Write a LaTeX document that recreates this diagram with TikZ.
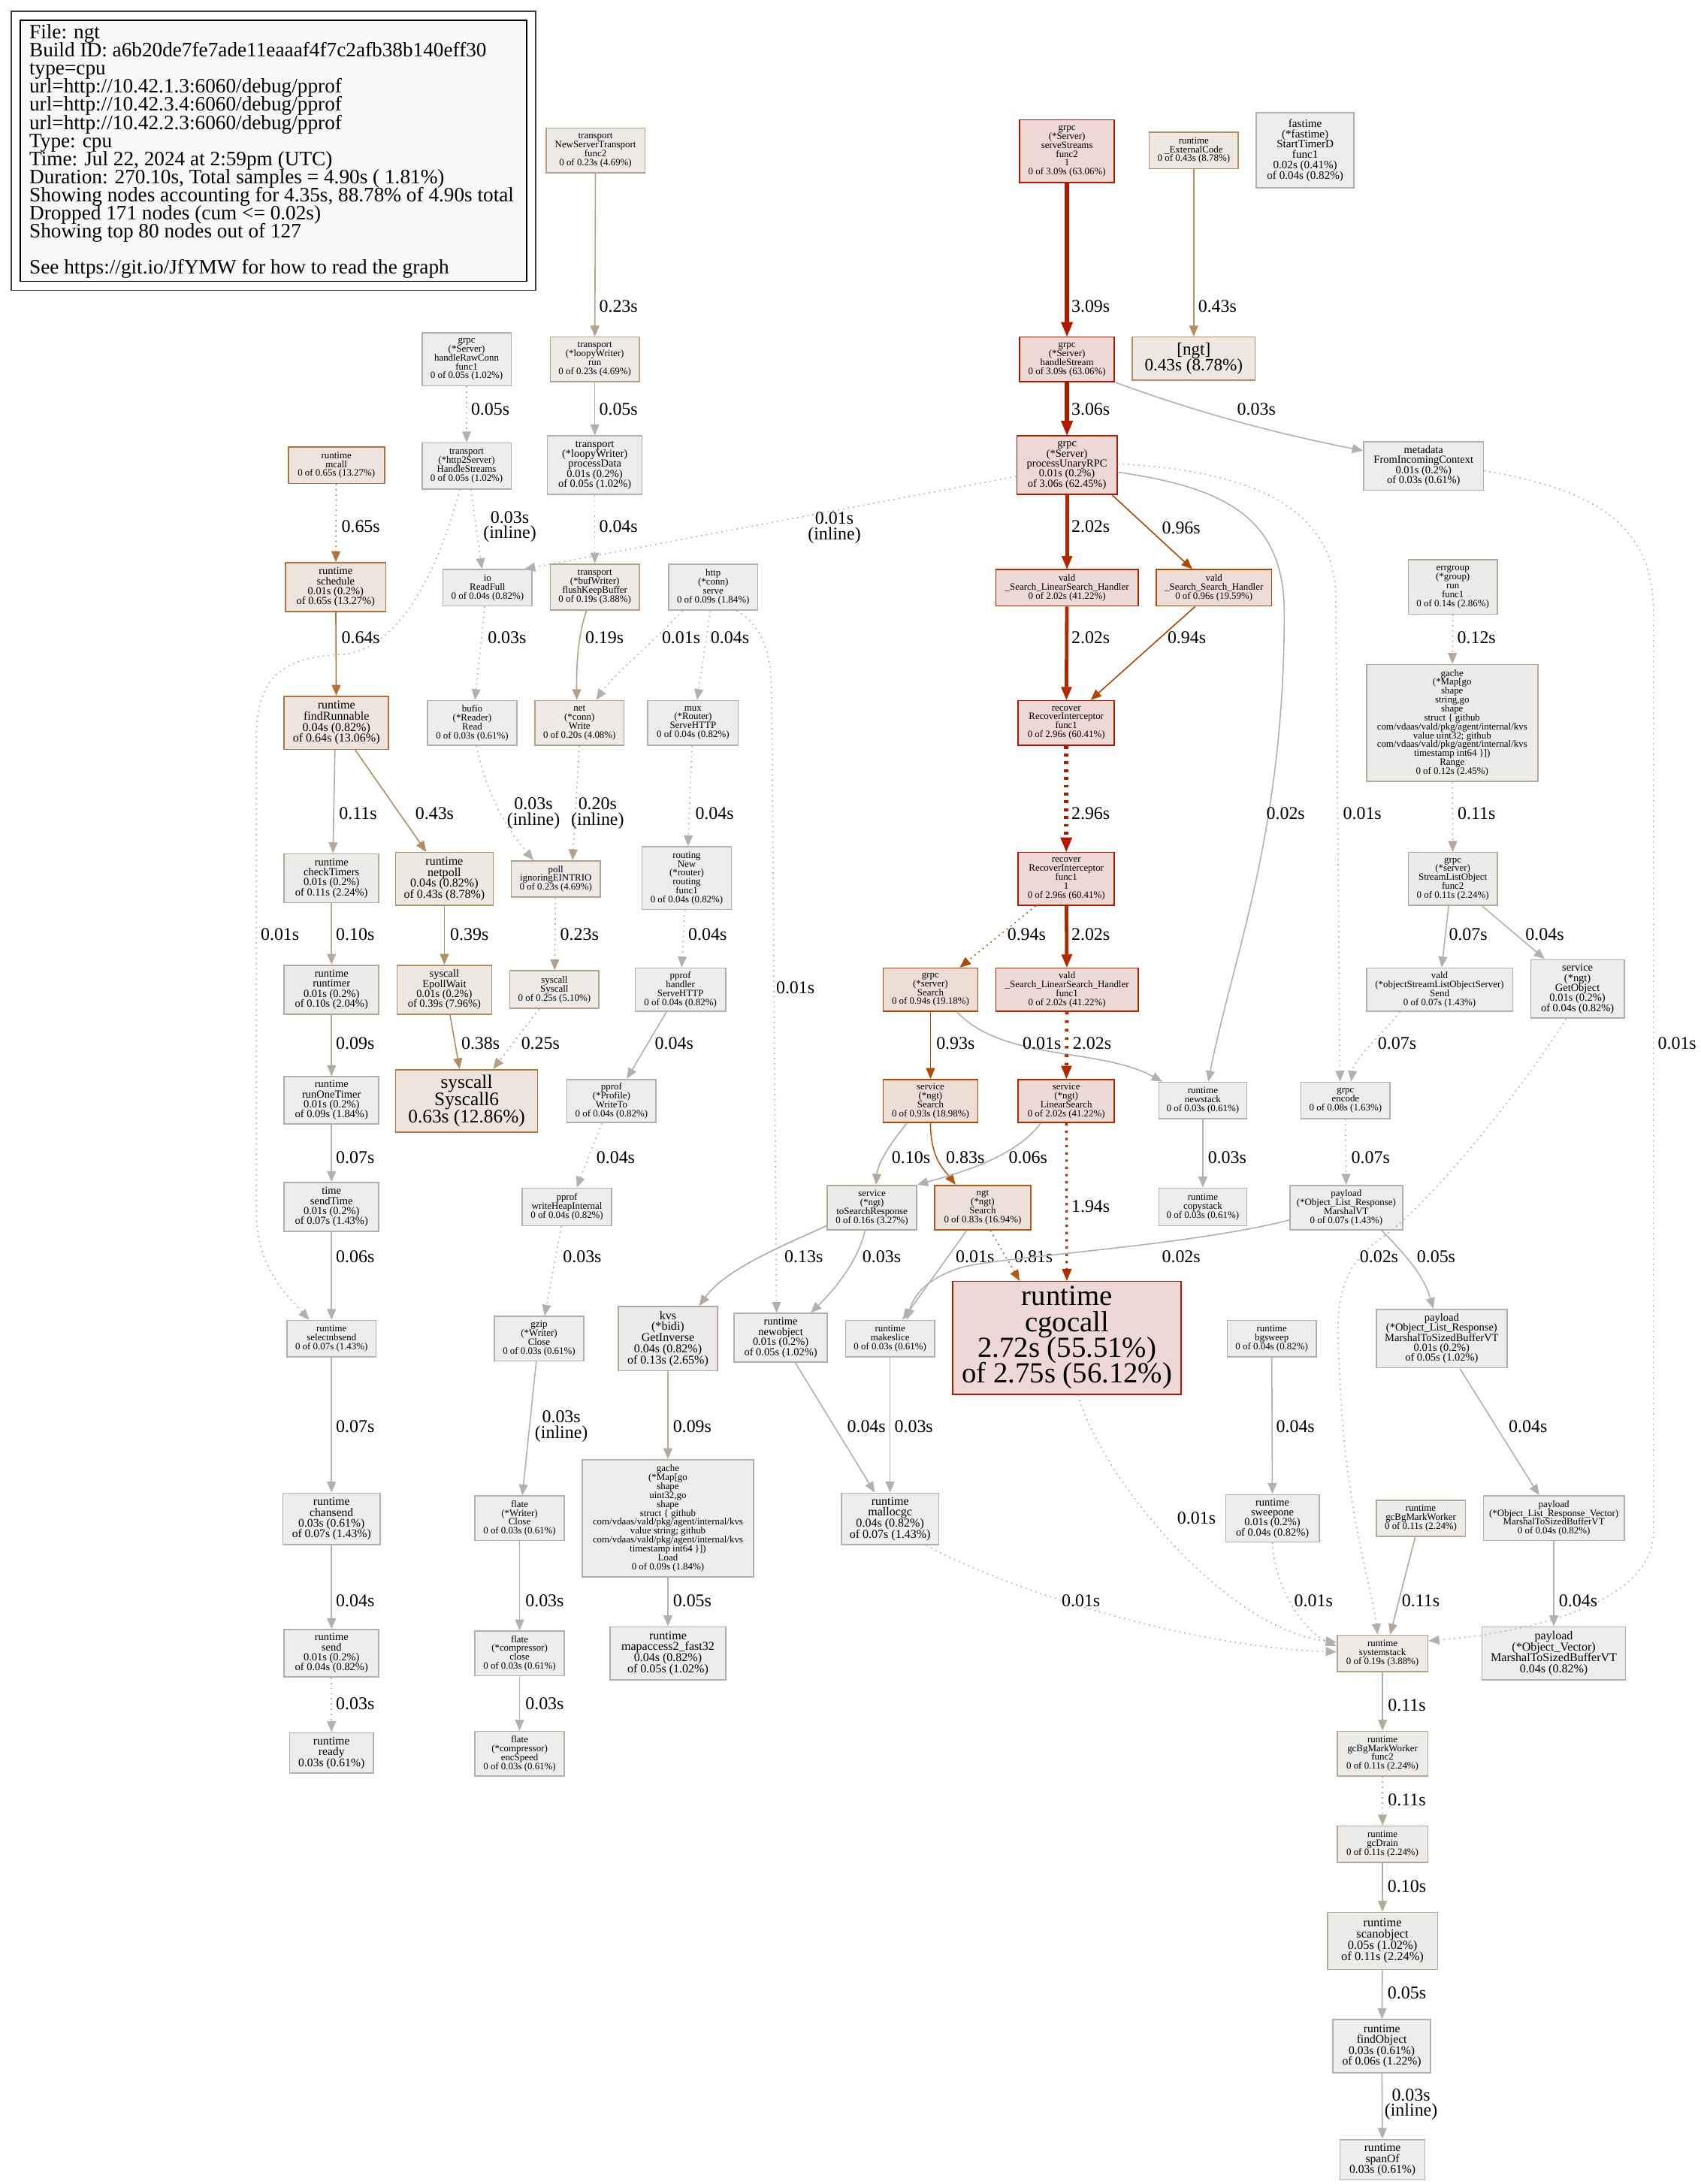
\documentclass[tikz,border=0pt]{standalone}
\usepackage{fontspec}
\setmainfont{Liberation Serif}
\usetikzlibrary{arrows.meta}

\definecolor{hotfill}{HTML}{EDD8D5}
\definecolor{hotline}{HTML}{B21800}
\definecolor{redfill}{HTML}{EDDAD5}
\definecolor{redline}{HTML}{B22900}
\definecolor{red2line}{HTML}{B22B00}
\definecolor{orfill}{HTML}{EDDED5}
\definecolor{orline}{HTML}{B24806}
\definecolor{ngfill}{HTML}{EDE1D9}
\definecolor{ngline}{HTML}{B2591B}
\definecolor{warmfill}{HTML}{EDE4DD}
\definecolor{warmline}{HTML}{B2723D}
\definecolor{tanfill}{HTML}{EDE8E2}
\definecolor{tanline}{HTML}{B28D66}
\definecolor{ltfill}{HTML}{EDEAE7}
\definecolor{ltline}{HTML}{B2A28A}
\definecolor{palefill}{HTML}{EDEBE9}
\definecolor{paleline}{HTML}{B2AA9C}
\definecolor{grayfill}{HTML}{EDEDEB}
\definecolor{grayline}{HTML}{B2B0AB}
\definecolor{callline}{HTML}{B2B1AD}
\definecolor{legendfill}{HTML}{F8F8F8}

% font size with fixed line pitch
\newcommand\setfs[2]{\fontsize{#1}{#2}\selectfont\lineskiplimit=-50pt\lineskip=0pt\relax}

\tikzset{
  fn/.style={draw, rectangle, align=center, inner xsep=1.5pt, inner ysep=0.5pt, line width=0.87pt,
    font=\setfs{6.96}{6.4}},
  sz/.style 2 args={minimum width=#1pt, minimum height=#2pt},
  fz1/.style={font=\setfs{7.8}{7.2}},
  fz2/.style={font=\setfs{8.15}{7.5}},
  fz3/.style={font=\setfs{8.42}{7.75}},
  fz4/.style={font=\setfs{8.65}{7.95}},
  fz5/.style={font=\setfs{8.85}{8.15}},
  fzngt/.style={font=\setfs{12.5}{11.5}},
  fzbig/.style={font=\setfs{13.66}{12.5}},
  fzhuge/.style={font=\setfs{20.9}{18.5}},
  hotbox/.style={fn, draw=hotline, fill=hotfill},
  redbox/.style={fn, draw=redline, fill=redfill},
  orbox/.style={fn, draw=orline, fill=orfill},
  ngbox/.style={fn, draw=ngline, fill=ngfill},
  warmbox/.style={fn, draw=warmline, fill=warmfill},
  tanbox/.style={fn, draw=tanline, fill=tanfill},
  ltbox/.style={fn, draw=ltline, fill=ltfill},
  palebox/.style={fn, draw=paleline, fill=palefill},
  graybox/.style={fn, draw=grayline, fill=grayfill},
  lbl/.style={font=\setfs{12.9}{11}, align=center, inner sep=0pt},
  call/.style={draw=callline, line width=0.87pt, -{Triangle[length=7.8pt,width=6.4pt]}},
  palecall/.style={call, draw=paleline},
  ltcall/.style={call, draw=ltline},
  tancall/.style={call, draw=tanline},
  warmcall/.style={call, draw=warmline},
  ngcall/.style={call, draw=ngline},
  orcall/.style={call, draw=orline},
  red2call/.style={draw=red2line, line width=1.74pt, -{Triangle[length=8.6pt,width=7pt,line width=0.5pt]}},
  redcall/.style={draw=redline, line width=2.6pt, -{Triangle[length=9.4pt,width=7.8pt,line width=0.5pt]}},
  hotcall/.style={draw=hotline, line width=3.5pt, -{Triangle[length=10.4pt,width=8.6pt,line width=0.5pt]}},
  indirect/.style={dash pattern=on 0.9pt off 2.8pt},
  dots2/.style={dash pattern=on 1.7pt off 3.5pt},
  dots3/.style={dash pattern=on 1.9pt off 4.2pt},
  dots4/.style={dash pattern=on 2.1pt off 3.5pt},
}

\begin{document}
\begin{tikzpicture}[x=1pt, y=-1pt]
    \useasboundingbox (0,0) rectangle (1221,1568);

    % legend
    \node[draw=black, fill=legendfill, line width=0.9pt, sz={363.4}{187.4}] (legend) at (196.3,108.3) {};
    \draw[draw=black!75, line width=1pt] ([shift={(-6,-6)}]legend.north west) rectangle ([shift={(6,6)}]legend.south east);
    \node[anchor=north west, align=left, inner sep=0pt, font=\setfs{14.7}{13}] (legendtext) at (20.9,17.4)
      {File: ngt\\Build ID: a6b20de7fe7ade11eaaaf4f7c2afb38b140eff30\\type=cpu\\
       url=http://10.42.1.3:6060/debug/pprof\\url=http://10.42.3.4:6060/debug/pprof\\url=http://10.42.2.3:6060/debug/pprof\\
       Type: cpu\\Time: Jul 22, 2024 at 2:59pm (UTC)\\Duration: 270.10s, Total samples = 4.90s ( 1.81\%)\\
       Showing nodes accounting for 4.35s, 88.78\% of 4.90s total\\Dropped 171 nodes (cum <= 0.02s)\\
       Showing top 80 nodes out of 127\\\mbox{}\\See https://git.io/JfYMW for how to read the graph};

    % top rows
    \node[ltbox, sz={71}{32}] (nst) at (427.5,108) {transport\\NewServerTransport\\func2\\0 of 0.23s (4.69\%)};
    \node[hotbox, sz={68}{45}] (srvstreams) at (766,108.5) {grpc\\(*Server)\\serveStreams\\func2\\1\\0 of 3.09s (63.06\%)};
    \node[tanbox, sz={64}{26}] (extcode) at (857,108) {runtime\\\_ExternalCode\\0 of 0.43s (8.78\%)};
    \node[graybox, fz2, sz={70}{54}] (fastime) at (937,108) {fastime\\(*fastime)\\StartTimerD\\func1\\0.02s (0.41\%)\\of 0.04s (0.82\%)};
    \node[graybox, sz={64}{38}] (rawconn) at (335,258) {grpc\\(*Server)\\handleRawConn\\func1\\0 of 0.05s (1.02\%)};
    \node[ltbox, sz={64}{32}] (lwrun) at (427,258) {transport\\(*loopyWriter)\\run\\0 of 0.23s (4.69\%)};
    \node[hotbox, sz={68}{32}] (hstream) at (766,258) {grpc\\(*Server)\\handleStream\\0 of 3.09s (63.06\%)};
    \node[tanbox, fzngt, sz={88}{31}] (ngtlib) at (857,257.5) {{[ngt]}\\0.43s (8.78\%)};
    \node[warmbox, sz={69}{26}] (mcall) at (241.5,334) {runtime\\mcall\\0 of 0.65s (13.27\%)};
    \node[graybox, sz={64}{33}] (hstreams) at (335,334.5) {transport\\(*http2Server)\\HandleStreams\\0 of 0.05s (1.02\%)};
    \node[graybox, fz1, sz={68}{42}] (procdata) at (427,334) {transport\\(*loopyWriter)\\processData\\0.01s (0.2\%)\\of 0.05s (1.02\%)};
    \node[hotbox, fz1, sz={72}{42}] (unaryrpc) at (766,334) {grpc\\(*Server)\\processUnaryRPC\\0.01s (0.2\%)\\of 3.06s (62.45\%)};
    \node[graybox, fz1, sz={86}{35}] (metadata) at (1022,334.5) {metadata\\FromIncomingContext\\0.01s (0.2\%)\\of 0.03s (0.61\%)};

    \node[warmbox, fz1, sz={72}{35}] (schedule) at (241,421.5) {runtime\\schedule\\0.01s (0.2\%)\\of 0.65s (13.27\%)};
    \node[graybox, sz={64}{26}] (readfull) at (350,422) {io\\ReadFull\\0 of 0.04s (0.82\%)};
    \node[ltbox, sz={64}{33}] (flushkb) at (427,421.5) {transport\\(*bufWriter)\\flushKeepBuffer\\0 of 0.19s (3.88\%)};
    \node[graybox, sz={64}{33}] (httpserve) at (512,421.5) {http\\(*conn)\\serve\\0 of 0.09s (1.84\%)};
    \node[redbox, sz={102}{26}] (lshandler) at (766,422) {vald\\\_Search\_LinearSearch\_Handler\\0 of 2.02s (41.22\%)};
    \node[orbox, sz={83}{26}] (shandler) at (871.5,422) {vald\\\_Search\_Search\_Handler\\0 of 0.96s (19.59\%)};
    \node[palebox, sz={64}{39}] (errgroup) at (1043,421.5) {errgroup\\(*group)\\run\\func1\\0 of 0.14s (2.86\%)};

    \node[warmbox, fz4, sz={75}{38}] (findrun) at (241.5,519) {runtime\\findRunnable\\0.04s (0.82\%)\\of 0.64s (13.06\%)};
    \node[graybox, sz={64}{32}] (bufioread) at (339,519) {bufio\\(*Reader)\\Read\\0 of 0.03s (0.61\%)};
    \node[ltbox, sz={64}{32}] (netwrite) at (416,519) {net\\(*conn)\\Write\\0 of 0.20s (4.08\%)};
    \node[graybox, sz={65}{32}] (mux) at (497.5,519) {mux\\(*Router)\\ServeHTTP\\0 of 0.04s (0.82\%)};
    \node[hotbox, sz={69}{32}] (recover) at (765.5,519) {recover\\RecoverInterceptor\\func1\\0 of 2.96s (60.41\%)};
    \node[palebox, sz={123}{84}] (gacherange) at (1042.5,519) {gache\\(*Map[go\\shape\\string,go\\shape\\struct \{ github\\com/vdaas/vald/pkg/agent/internal/kvs\\value uint32; github\\com/vdaas/vald/pkg/agent/internal/kvs\\timestamp int64 \}])\\Range\\0 of 0.12s (2.45\%)};

    \node[palebox, fz1, sz={68}{35}] (checktimers) at (238,630.5) {runtime\\checkTimers\\0.01s (0.2\%)\\of 0.11s (2.24\%)};
    \node[tanbox, fz4, sz={70}{38}] (netpoll) at (319,631) {runtime\\netpoll\\0.04s (0.82\%)\\of 0.43s (8.78\%)};
    \node[ltbox, sz={64}{26}] (poll) at (399,631) {poll\\ignoringEINTRIO\\0 of 0.23s (4.69\%)};
    \node[graybox, sz={64}{45}] (routing) at (493,630.5) {routing\\New\\(*router)\\routing\\func1\\0 of 0.04s (0.82\%)};
    \node[hotbox, sz={69}{38}] (recover1) at (765.5,631) {recover\\RecoverInterceptor\\func1\\1\\0 of 2.96s (60.41\%)};
    \node[palebox, sz={64}{38}] (streamlist) at (1043,631) {grpc\\(*server)\\StreamListObject\\func2\\0 of 0.11s (2.24\%)};

    \node[palebox, fz1, sz={68}{35}] (runtimer) at (238,710.5) {runtime\\runtimer\\0.01s (0.2\%)\\of 0.10s (2.04\%)};
    \node[tanbox, fz1, sz={68}{35}] (epollwait) at (319,710.5) {syscall\\EpollWait\\0.01s (0.2\%)\\of 0.39s (7.96\%)};
    \node[ltbox, sz={64}{27}] (syscall) at (398,710.5) {syscall\\Syscall\\0 of 0.25s (5.10\%)};
    \node[graybox, sz={65}{31}] (pprofhandler) at (488.5,710.5) {pprof\\handler\\ServeHTTP\\0 of 0.04s (0.82\%)};
    \node[orbox, sz={68}{31}] (grpcsearch) at (668,710.5) {grpc\\(*server)\\Search\\0 of 0.94s (19.18\%)};
    \node[redbox, sz={102}{31}] (lshfunc1) at (766,710.5) {vald\\\_Search\_LinearSearch\_Handler\\func1\\0 of 2.02s (41.22\%)};
    \node[graybox, sz={105}{31}] (send2) at (1033.5,710.5) {vald\\(*objectStreamListObjectServer)\\Send\\0 of 0.07s (1.43\%)};
    \node[graybox, fz1, sz={67}{42}] (getobject) at (1132.5,710) {service\\(*ngt)\\GetObject\\0.01s (0.2\%)\\of 0.04s (0.82\%)};

    \node[graybox, fz1, sz={68}{34}] (runonetimer) at (238,790) {runtime\\runOneTimer\\0.01s (0.2\%)\\of 0.09s (1.84\%)};
    \node[warmbox, fzbig, sz={102}{45}] (syscall6) at (335,790.5) {syscall\\Syscall6\\0.63s (12.86\%)};
    \node[graybox, sz={64}{31}] (writeto) at (439,790.5) {pprof\\(*Profile)\\WriteTo\\0 of 0.04s (0.82\%)};
    \node[orbox, sz={68}{31}] (svcsearch) at (668,790.5) {service\\(*ngt)\\Search\\0 of 0.93s (18.98\%)};
    \node[redbox, sz={69}{31}] (svclinear) at (765.5,790.5) {service\\(*ngt)\\LinearSearch\\0 of 2.02s (41.22\%)};
    \node[graybox, sz={63}{26}] (newstack) at (863.5,790) {runtime\\newstack\\0 of 0.03s (0.61\%)};
    \node[graybox, sz={64}{26}] (encode) at (966,790) {grpc\\encode\\0 of 0.08s (1.63\%)};

    \node[graybox, fz1, sz={68}{35}] (sendtime) at (238,866.5) {time\\sendTime\\0.01s (0.2\%)\\of 0.07s (1.43\%)};
    \node[graybox, sz={64}{27}] (writeheap) at (407,866.5) {pprof\\writeHeapInternal\\0 of 0.04s (0.82\%)};
    \node[palebox, sz={64}{32}] (tosearch) at (626,867) {service\\(*ngt)\\toSearchResponse\\0 of 0.16s (3.27\%)};
    \node[ngbox, sz={69}{32}] (ngtsearch) at (705.5,867) {ngt\\(*ngt)\\Search\\0 of 0.83s (16.94\%)};
    \node[graybox, sz={63}{27}] (copystack) at (863.5,866.5) {runtime\\copystack\\0 of 0.03s (0.61\%)};
    \node[graybox, sz={81}{32}] (marshalvt) at (966.5,867) {payload\\(*Object\_List\_Response)\\MarshalVT\\0 of 0.07s (1.43\%)};

    \node[graybox, sz={64}{26}] (selectnb) at (238,961) {runtime\\selectnbsend\\0 of 0.07s (1.43\%)};
    \node[graybox, sz={64}{32}] (gzip) at (387,961) {gzip\\(*Writer)\\Close\\0 of 0.03s (0.61\%)};
    \node[palebox, fz4, sz={71}{46}] (kvs) at (479.5,961) {kvs\\(*bidi)\\GetInverse\\0.04s (0.82\%)\\of 0.13s (2.65\%)};
    \node[graybox, fz1, sz={67}{35}] (newobject) at (560.5,960.5) {runtime\\newobject\\0.01s (0.2\%)\\of 0.05s (1.02\%)};
    \node[graybox, sz={64}{26}] (makeslice) at (639,961) {runtime\\makeslice\\0 of 0.03s (0.61\%)};
    \node[hotbox, fzhuge, sz={164}{81}] (cgocall) at (766,960.5) {runtime\\cgocall\\2.72s (55.51\%)\\of 2.75s (56.12\%)};
    \node[graybox, sz={64}{26}] (bgsweep) at (913,961) {runtime\\bgsweep\\0 of 0.04s (0.82\%)};
    \node[graybox, fz1, sz={94}{42}] (mtsbvt) at (1035,961) {payload\\(*Object\_List\_Response)\\MarshalToSizedBufferVT\\0.01s (0.2\%)\\of 0.05s (1.02\%)};

    \node[graybox, fz3, sz={70}{37}] (chansend) at (238,1090.5) {runtime\\chansend\\0.03s (0.61\%)\\of 0.07s (1.43\%)};
    \node[graybox, sz={64}{32}] (flateclose) at (373,1090) {flate\\(*Writer)\\Close\\0 of 0.03s (0.61\%)};
    \node[graybox, sz={123}{84}] (gacheload) at (479.5,1090) {gache\\(*Map[go\\shape\\uint32,go\\shape\\struct \{ github\\com/vdaas/vald/pkg/agent/internal/kvs\\value string; github\\com/vdaas/vald/pkg/agent/internal/kvs\\timestamp int64 \}])\\Load\\0 of 0.09s (1.84\%)};
    \node[graybox, fz4, sz={70}{37}] (mallocgc) at (639,1090.5) {runtime\\mallocgc\\0.04s (0.82\%)\\of 0.07s (1.43\%)};
    \node[graybox, fz1, sz={67}{34}] (sweepone) at (913.5,1090) {runtime\\sweepone\\0.01s (0.2\%)\\of 0.04s (0.82\%)};
    \node[palebox, sz={64}{26}] (gcbgmark) at (1020,1090) {runtime\\gcBgMarkWorker\\0 of 0.11s (2.24\%)};
    \node[graybox, sz={101}{32}] (vecmtsb) at (1115.5,1090) {payload\\(*Object\_List\_Response\_Vector)\\MarshalToSizedBufferVT\\0 of 0.04s (0.82\%)};

    \node[graybox, fz1, sz={68}{34}] (send) at (238,1187) {runtime\\send\\0.01s (0.2\%)\\of 0.04s (0.82\%)};
    \node[graybox, sz={64}{32}] (compclose) at (373,1187) {flate\\(*compressor)\\close\\0 of 0.03s (0.61\%)};
    \node[graybox, fz4, sz={83}{38}] (mapaccess) at (479.5,1187) {runtime\\mapaccess2\_fast32\\0.04s (0.82\%)\\of 0.05s (1.02\%)};
    \node[ltbox, sz={65}{26}] (sysstack) at (992.5,1187) {runtime\\systemstack\\0 of 0.19s (3.88\%)};
    \node[graybox, fz4, sz={103}{38}] (objvec) at (1115.5,1187) {payload\\(*Object\_Vector)\\MarshalToSizedBufferVT\\0.04s (0.82\%)};

    \node[graybox, fz3, sz={60}{29}] (ready) at (238,1258.5) {runtime\\ready\\0.03s (0.61\%)};
    \node[graybox, sz={64}{32}] (encspeed) at (373,1259) {flate\\(*compressor)\\encSpeed\\0 of 0.03s (0.61\%)};
    \node[palebox, sz={65}{32}] (gcfunc2) at (992.5,1259) {runtime\\gcBgMarkWorker\\func2\\0 of 0.11s (2.24\%)};
    \node[palebox, sz={65}{26}] (gcdrain) at (992.5,1324) {runtime\\gcDrain\\0 of 0.11s (2.24\%)};
    \node[palebox, fz5, sz={79}{41}] (scanobject) at (992.5,1393.5) {runtime\\scanobject\\0.05s (1.02\%)\\of 0.11s (2.24\%)};
    \node[graybox, fz3, sz={70}{38}] (findobject) at (992,1469) {runtime\\findObject\\0.03s (0.61\%)\\of 0.06s (1.22\%)};
    \node[graybox, fz3, sz={61}{29}] (spanof) at (992.5,1550.5) {runtime\\spanOf\\0.03s (0.61\%)};

    % calls
    \draw[ltcall] (nst) -- (lwrun) node[lbl] (w01) at (444,220) {0.23s};
    \draw[call] (lwrun) -- (procdata) node[lbl] (w02) at (444,294) {0.05s};
    \draw[call, indirect] (procdata) -- (flushkb) node[lbl] (w03) at (444,378) {0.04s};
    \draw[hotcall] (srvstreams) -- (hstream) node[lbl] (w04) at (783,220) {3.09s};
    \draw[hotcall] (hstream) -- (unaryrpc) node[lbl] (w05) at (783,294) {3.06s};
    \draw[call] (hstream.south east) .. controls (870,300) and (930,314) .. ([yshift=-7pt]metadata.north west) node[lbl] (w06) at (902,294) {0.03s};
    \draw[call, indirect] ([yshift=-8pt]unaryrpc.west) -- ([xshift=-6pt]readfull.north east) node[lbl] (w07) at (599,379) {0.01s\\(inline)};
    \draw[redcall] (unaryrpc) -- (lshandler) node[lbl] (w08) at (783,378) {2.02s};
    \draw[orcall] ([xshift=-4pt]unaryrpc.south east) -- ([xshift=-15.5pt]shandler.north) node[lbl] (w09) at (848,379) {0.96s};
    \draw[call] ([yshift=-5pt]unaryrpc.east) .. controls (880,350) and (922,372) .. (922,440) .. controls (922,600) and (884,690) .. ([xshift=4pt]newstack.north) node[lbl] (w10) at (923,584) {0.02s};
    \draw[call, indirect] ([yshift=1pt]unaryrpc.east) .. controls (900,338) and (959,365) .. (959,430) -- ([xshift=-4pt]encode.north) node[lbl] (w11) at (978,584) {0.01s};
    \draw[call, indirect] ([yshift=-3.5pt]metadata.east) .. controls (1150,352) and (1187,380) .. (1187,440) -- (1187,1100) .. controls (1187,1150) and (1100,1172) .. ([yshift=9pt]sysstack.east) node[lbl] (w12) at (1204,749) {0.01s};
    \draw[tancall] (extcode) -- (ngtlib) node[lbl] (w13) at (874,220) {0.43s};
    \draw[call, indirect] (rawconn) -- (hstreams) node[lbl] (w14) at (352,294) {0.05s};
    \draw[call, indirect] ([xshift=3pt]hstreams.south) -- ([xshift=-4pt]readfull.north) node[lbl] (w15) at (366,378) {0.03s\\(inline)};
    \draw[call, indirect] ([xshift=-5pt]hstreams.south) .. controls (312,420) and (282,468) .. (244,470) .. controls (204,472) and (184,485) .. (184,530) -- (184,870) .. controls (184,910) and (206,930) .. ([xshift=-16pt]selectnb.north) node[lbl] (w16) at (201,671) {0.01s};
    \draw[warmcall, indirect] (mcall) -- (schedule) node[lbl] (w17) at (259,378) {0.65s};
    \draw[warmcall] (schedule) -- (findrun) node[lbl] (w18) at (259,458) {0.64s};
    \draw[call, indirect] ([xshift=-2pt]readfull.south) -- ([xshift=2pt]bufioread.north) node[lbl] (w19) at (364,458) {0.03s};
    \draw[ltcall] ([xshift=-6pt]flushkb.south) .. controls (414,460) and (414,480) .. ([xshift=-2pt]netwrite.north) node[lbl] (w20) at (434,458) {0.19s};
    \draw[call, indirect] ([xshift=-22pt]httpserve.south) .. controls (470,460) and (440,485) .. ([xshift=12pt]netwrite.north) node[lbl] (w21) at (489,458) {0.01s};
    \draw[call, indirect] ([xshift=-2pt]httpserve.south) -- ([xshift=3pt]mux.north) node[lbl] (w22) at (524,458) {0.04s};
    \draw[call, indirect] ([xshift=17pt]httpserve.south) .. controls (548,450) and (554,470) .. (554,500) -- ([xshift=-3pt]newobject.north) node[lbl] (w23) at (571,709) {0.01s};
    \draw[palecall] ([xshift=-1pt]findrun.south) -- ([xshift=1pt]checktimers.north) node[lbl] (w24) at (257,584) {0.11s};
    \draw[tancall] ([xshift=13.5pt]findrun.south) -- ([xshift=-13pt]netpoll.north) node[lbl] (w25) at (312,584) {0.43s};
    \draw[call, indirect] ([xshift=3pt]bufioread.south) .. controls (350,575) and (368,600) .. ([xshift=-16pt]poll.north) node[lbl] (w26) at (383,584) {0.03s\\(inline)};
    \draw[ltcall, indirect] (netwrite.south) -- ([xshift=12pt]poll.north) node[lbl] (w27) at (429,584) {0.20s\\(inline)};
    \draw[call, indirect] (mux) -- (routing) node[lbl] (w28) at (513,584) {0.04s};
    \draw[palecall] (checktimers) -- (runtimer) node[lbl] (w29) at (255,671) {0.10s};
    \draw[tancall] (netpoll) -- (epollwait) node[lbl] (w30) at (337,671) {0.39s};
    \draw[ltcall, indirect] (poll) -- (syscall) node[lbl] (w31) at (416,671) {0.23s};
    \draw[call, indirect] (routing) -- (pprofhandler) node[lbl] (w32) at (508,671) {0.04s};
    \draw[palecall] (runtimer) -- (runonetimer) node[lbl] (w33) at (255,749) {0.09s};
    \draw[tancall] ([xshift=4pt]epollwait.south) -- ([xshift=-5pt]syscall6.north) node[lbl] (w34) at (345,749) {0.38s};
    \draw[ltcall, indirect] ([xshift=-11pt]syscall.south) -- ([xshift=19pt]syscall6.north) node[lbl] (w35) at (388,749) {0.25s};
    \draw[call] ([xshift=-10pt]pprofhandler.south) -- ([xshift=11pt]writeto.north) node[lbl] (w36) at (484,749) {0.04s};
    \draw[call] (runonetimer) -- (sendtime) node[lbl] (w37) at (255,831) {0.07s};
    \draw[call, indirect] ([xshift=-7pt]writeto.south) -- ([xshift=7pt]writeheap.north) node[lbl] (w38) at (442,831) {0.04s};
    \draw[call] (sendtime) -- (selectnb) node[lbl] (w39) at (255,902) {0.06s};
    \draw[call, indirect] ([xshift=-4pt]writeheap.south) -- ([xshift=4pt]gzip.north) node[lbl] (w40) at (418,902) {0.03s};
    \draw[call] (selectnb) -- (chansend) node[lbl] (w41) at (255,1024) {0.07s};
    \draw[call] ([xshift=-2pt]gzip.south) -- ([xshift=2pt]flateclose.north) node[lbl] (w42) at (403,1024) {0.03s\\(inline)};
    \draw[palecall] (kvs) -- (gacheload) node[lbl] (w43) at (497,1024) {0.09s};
    \draw[call] (chansend) -- (send) node[lbl] (w44) at (255,1149) {0.04s};
    \draw[call] (flateclose) -- (compclose) node[lbl] (w45) at (391,1149) {0.03s};
    \draw[call] (gacheload) -- (mapaccess) node[lbl] (w46) at (497,1149) {0.05s};
    \draw[call, indirect] (send) -- (ready) node[lbl] (w47) at (255,1223) {0.03s};
    \draw[call] (compclose) -- (encspeed) node[lbl] (w48) at (391,1223) {0.03s};
    \draw[orcall] ([xshift=-13.5pt]shandler.south) -- ([xshift=17.5pt]recover.north) node[lbl] (w49) at (852,458) {0.94s};
    \draw[redcall] (lshandler) -- (recover) node[lbl] (w50) at (783,458) {2.02s};
    \draw[hotcall, dots4] (recover) -- (recover1) node[lbl] (w51) at (783,584) {2.96s};
    \draw[orcall, indirect] ([xshift=-22pt]recover1.south) -- ([xshift=21pt]grpcsearch.north) node[lbl] (w52) at (737,671) {0.94s};
    \draw[redcall] (recover1) -- (lshfunc1) node[lbl] (w53) at (783,671) {2.02s};
    \draw[orcall] (grpcsearch) -- (svcsearch) node[lbl] (w54) at (686,749) {0.93s};
    \draw[call] ([xshift=19pt]grpcsearch.south) .. controls (720,762) and (790,752) .. ([xshift=-29pt]newstack.north) node[lbl] (w55) at (748,749) {0.01s};
    \draw[redcall, dots3] (lshfunc1) -- (svclinear) node[lbl] (w56) at (784,749) {2.02s};
    \draw[call] (newstack) -- (copystack) node[lbl] (w57) at (881,831) {0.03s};
    \draw[call, indirect] (encode) -- (marshalvt) node[lbl] (w58) at (984,831) {0.07s};
    \draw[palecall] ([xshift=-17pt]svcsearch.south) .. controls (640,820) and (630,835) .. ([xshift=3pt]tosearch.north) node[lbl] (w59) at (654,831) {0.10s};
    \draw[ngcall] (svcsearch.south) .. controls (668,832) and (678,840) .. ([xshift=-19.5pt]ngtsearch.north) node[lbl] (w60) at (693,831) {0.83s};
    \draw[call] ([xshift=-18.5pt]svclinear.south) .. controls (730,830) and (690,842) .. (tosearch.north east) node[lbl] (w61) at (738,831) {0.06s};
    \draw[red2call, dots2] (svclinear) -- (cgocall) node[lbl] (w62) at (783,866) {1.94s};
    \draw[palecall] ([yshift=-13pt]tosearch.west) .. controls (560,895) and (520,912) .. ([xshift=22.5pt]kvs.north) node[lbl] (w63) at (577,902) {0.13s};
    \draw[call] ([xshift=-5pt]tosearch.south) .. controls (616,905) and (600,925) .. ([xshift=21.5pt]newobject.north) node[lbl] (w64) at (633,902) {0.03s};
    \draw[call] ([xshift=-11.5pt]ngtsearch.south) -- ([xshift=9pt]makeslice.north) node[lbl] (w65) at (700,902) {0.01s};
    \draw[ngcall, indirect] ([xshift=5.5pt]ngtsearch.south) -- ([xshift=-34pt]cgocall.north) node[lbl] (w66) at (742,902) {0.81s};
    \draw[call] ([yshift=-9pt]marshalvt.west) .. controls (850,895) and (720,902) .. (690,910) .. controls (665,918) and (656,930) .. ([xshift=12pt]makeslice.north) node[lbl] (w67) at (848,902) {0.02s};
    \draw[call] ([xshift=25.5pt]marshalvt.south) .. controls (1008,900) and (1022,915) .. ([xshift=-6pt]mtsbvt.north) node[lbl] (w68) at (1031,902) {0.05s};
    \draw[call, indirect] ([xshift=-8pt]getobject.south) .. controls (1080,800) and (1020,870) .. (990,890) .. controls (955,915) and (960,950) .. (962,990) .. controls (965,1080) and (985,1140) .. ([xshift=-3.5pt]sysstack.north) node[lbl] (w69) at (990,902) {0.02s};
    \draw[call] ([xshift=10.5pt]newobject.south) -- ([xshift=-11pt]mallocgc.north) node[lbl] (w70) at (622,1024) {0.04s};
    \draw[call] (makeslice) -- (mallocgc) node[lbl] (w71) at (656,1024) {0.03s};
    \draw[call] (bgsweep) -- (sweepone) node[lbl] (w72) at (930,1024) {0.04s};
    \draw[call] ([xshift=13pt]mtsbvt.south) -- ([xshift=-10.5pt]vecmtsb.north) node[lbl] (w73) at (1097,1024) {0.04s};
    \draw[call, indirect] ([xshift=8pt]cgocall.south) .. controls (790,1060) and (880,1170) .. ([yshift=8pt]sysstack.west) node[lbl] (w74) at (859,1090) {0.01s};
    \draw[call, indirect] ([xshift=26pt]mallocgc.south) .. controls (720,1140) and (850,1182) .. ([yshift=1pt]sysstack.west) node[lbl] (w75) at (776,1149) {0.01s};
    \draw[call, indirect] (sweepone.south) .. controls (915,1140) and (935,1170) .. ([yshift=5pt]sysstack.west) node[lbl] (w76) at (943,1149) {0.01s};
    \draw[palecall] ([xshift=-4pt]gcbgmark.south) -- ([xshift=5.5pt]sysstack.north) node[lbl] (w77) at (1020,1149) {0.11s};
    \draw[call] (vecmtsb) -- (objvec) node[lbl] (w78) at (1133,1149) {0.04s};
    \draw[palecall] (sysstack) -- (gcfunc2) node[lbl] (w79) at (1010,1224) {0.11s};
    \draw[palecall, indirect] (gcfunc2) -- (gcdrain) node[lbl] (w80) at (1010,1292) {0.11s};
    \draw[palecall] (gcdrain) -- (scanobject) node[lbl] (w81) at (1010,1354) {0.10s};
    \draw[call] (scanobject) -- (findobject) node[lbl] (w82) at (1010,1431) {0.05s};
    \draw[call] (findobject) -- (spanof) node[lbl] (w83) at (1013,1511) {0.03s\\(inline)};
    \draw[palecall, indirect] (errgroup) -- (gacherange) node[lbl] (w84) at (1060,458) {0.12s};
    \draw[palecall, indirect] (gacherange) -- (streamlist) node[lbl] (w85) at (1060,584) {0.11s};
    \draw[call] ([xshift=-3pt]streamlist.south) -- ([xshift=1.5pt]send2.north) node[lbl] (w86) at (1054,671) {0.07s};
    \draw[call] ([xshift=21pt]streamlist.south) -- ([xshift=-23.5pt]getobject.north) node[lbl] (w87) at (1109,671) {0.04s};
    \draw[call, indirect] ([xshift=-28.5pt]send2.south) .. controls (990,745) and (972,760) .. ([xshift=4pt]encode.north) node[lbl] (w88) at (1003,749) {0.07s};
  \end{tikzpicture}
\end{document}
